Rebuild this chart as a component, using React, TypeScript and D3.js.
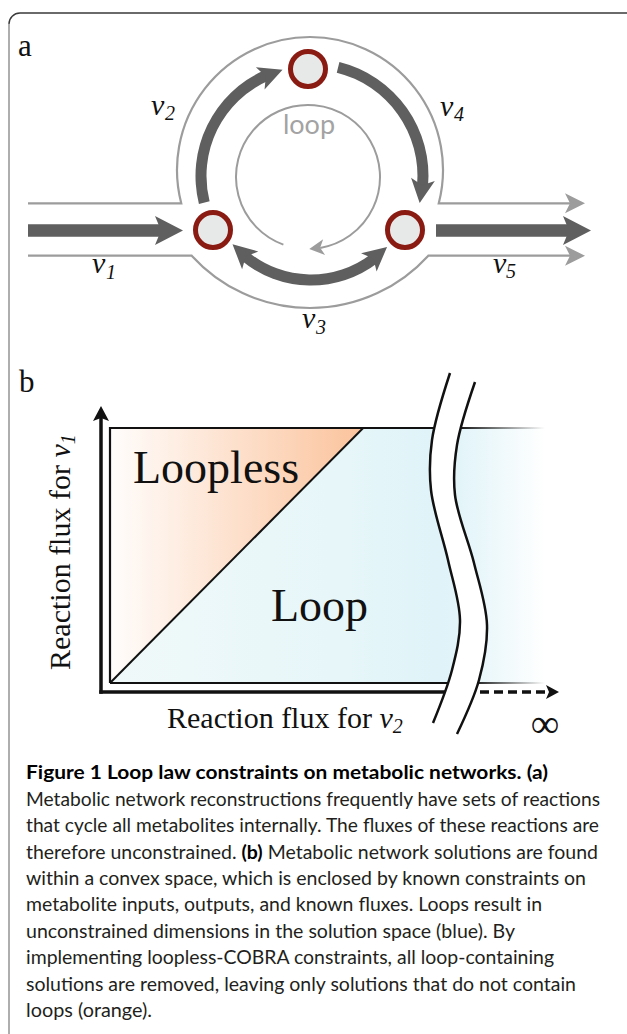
import React from 'react';
import * as d3 from 'd3';

const W = 627;
const H = 1034;

// ---- panel a: metabolites and reactions ----
const nodes = [
  { id: 'top', x: 308, y: 69 },
  { id: 'left', x: 213, y: 230 },
  { id: 'right', x: 405, y: 230 },
];

// loop reactions drawn as arcs around the loop centre (deg, 0 = 12 o'clock)
const loopCenter = { x: 311, y: 176 };
const loopArrows = [
  { id: 'v2', r: 110, from: -104, to: -15, heads: ['end'] },
  { id: 'v4', r: 112, from: 14, to: 104, heads: ['end'] },
  { id: 'v3', r: 104, from: 133, to: 229, heads: ['start', 'end'] },
];

// exchange reactions v1 (in) and v5 (out)
const flowArrows = [
  { id: 'v1', x0: 28, x1: 183, y: 230.5 },
  { id: 'v5', x0: 436, x1: 591, y: 230.5 },
];

const reactionLabels = [
  { sub: '1', x: 92, y: 273, sx: 106, sy: 279 },
  { sub: '2', x: 151, y: 115, sx: 165, sy: 120 },
  { sub: '3', x: 302, y: 328, sx: 316, sy: 334 },
  { sub: '4', x: 440, y: 116, sx: 454, sy: 121 },
  { sub: '5', x: 493, y: 273, sx: 506, sy: 278 },
];

// ---- panel b: solution space ----
const diagTop = 0.582; // v2 value where loopless region meets the top bound
const looplessRegion: [number, number][] = [[0, 0], [0, 1], [diagTop, 1]];
const loopRegion: [number, number][] = [[0, 0], [diagTop, 1], [1, 1], [1, 0]];
const breakLeft: [number, number][] = [
  [450, 373], [432, 440], [431, 490], [448, 560], [460, 620], [452, 670], [433, 723],
];
const breakRight: [number, number][] = [
  [475, 382], [457, 445], [455, 495], [474, 563], [487, 625], [479, 680], [457, 734],
];

// ---- caption ----
const captionLines: { t: string; b?: boolean }[][] = [
  [{ t: 'Figure 1 Loop law constraints on metabolic networks. (a)', b: true }],
  [{ t: 'Metabolic network reconstructions frequently have sets of reactions' }],
  [{ t: 'that cycle all metabolites internally. The fluxes of these reactions are' }],
  [{ t: 'therefore unconstrained. ' }, { t: '(b)', b: true }, { t: ' Metabolic network solutions are found' }],
  [{ t: 'within a convex space, which is enclosed by known constraints on' }],
  [{ t: 'metabolite inputs, outputs, and known fluxes. Loops result in' }],
  [{ t: 'unconstrained dimensions in the solution space (blue). By' }],
  [{ t: 'implementing loopless-COBRA constraints, all loop-containing' }],
  [{ t: 'solutions are removed, leaving only solutions that do not contain' }],
  [{ t: 'loops (orange).' }],
];
const captionRight = [548, 600, 599, 598, 586, 542, 515, 554, 576, 152];

const ARROW = '#5f5f5f';
const LIGHT = '#9c9c9c';
const SERIF = '"Liberation Serif", "Times New Roman", serif';
const SANS = 'Lato, "Open Sans", sans-serif';

const rad = (d: number) => (d * Math.PI) / 180;
const onCircle = (cx: number, cy: number, r: number, a: number): [number, number] => [
  cx + r * Math.sin(rad(a)),
  cy - r * Math.cos(rad(a)),
];

function headPoints(tip: [number, number], dir: [number, number], L: number, w: number, n: number) {
  const [tx, ty] = tip;
  const [dx, dy] = dir;
  const nx = -dy, ny = dx;
  const bx = tx - dx * L, by = ty - dy * L;
  return [
    [tx, ty],
    [bx + nx * w, by + ny * w],
    [tx - dx * (L - n), ty - dy * (L - n)],
    [bx - nx * w, by - ny * w],
  ].map((p) => p.join(',')).join(' ');
}

function arcHead(cx: number, cy: number, r: number, tipA: number, s: number, L: number, w: number, n: number) {
  const tip = onCircle(cx, cy, r, tipA);
  const base = onCircle(cx, cy, r, tipA - (s * L * 180) / (Math.PI * r));
  const len = Math.hypot(tip[0] - base[0], tip[1] - base[1]);
  const dir: [number, number] = [(tip[0] - base[0]) / len, (tip[1] - base[1]) / len];
  return headPoints(tip, dir, len, w, n);
}

export default function App() {
  const arcGen = d3.arc();
  const HL = 24, HW = 12, HN = 6, T = 11;

  // outer grey channel boundary
  const up = { cx: 310, cy: 170, r: 133 };
  const lo = { cx: 310, cy: 148, r: 160 };
  const yU = 203.3, yL = 255.7;
  const dxU = Math.sqrt(up.r * up.r - (yU - up.cy) ** 2);
  const dxL = Math.sqrt(lo.r * lo.r - (yL - lo.cy) ** 2);
  const upper = d3.path();
  upper.moveTo(28, yU);
  upper.lineTo(up.cx - dxU, yU);
  upper.arc(up.cx, up.cy, up.r, Math.atan2(yU - up.cy, -dxU), Math.atan2(yU - up.cy, dxU), false);
  upper.lineTo(571, yU);
  const lower = d3.path();
  lower.moveTo(28, yL);
  lower.lineTo(lo.cx - dxL, yL);
  lower.arc(lo.cx, lo.cy, lo.r, Math.atan2(yL - lo.cy, -dxL), Math.atan2(yL - lo.cy, dxL), true);
  lower.lineTo(571, yL);

  // inner "loop" circle
  const inner = { cx: 308, cy: 177, r: 72 };
  const innerTip = 179;
  const innerNotch = innerTip - ((15 - 4) * 180) / (Math.PI * inner.r);
  const innerPath = d3.path();
  innerPath.arc(inner.cx, inner.cy, inner.r, rad(-160 - 90), rad(innerNotch - 90), false);

  // panel b scales
  const x = d3.scaleLinear().domain([0, 1]).range([110, 545]);
  const y = d3.scaleLinear().domain([0, 1]).range([683, 428]);
  const poly = d3.line<[number, number]>().x((d) => x(d[0])).y((d) => y(d[1]));
  const wave = d3.line<[number, number]>().curve(d3.curveCatmullRom.alpha(0.5));
  const leftD = wave(breakLeft) as string;
  const rightRevD = (wave(breakRight.slice().reverse()) as string).replace(/^M/, 'L');
  const gapD = leftD + rightRevD + 'Z';

  return (
    <svg
      width={W}
      height={H}
      viewBox={`0 0 ${W} ${H}`}
      style={{ position: 'absolute', left: 0, top: 0, display: 'block', background: '#fff' }}
    >
      <defs>
        <linearGradient id="orange" gradientUnits="userSpaceOnUse" x1={x(0)} x2={x(diagTop)} y1={0} y2={0}>
          <stop offset="0" stopColor="#fffdfc" />
          <stop offset="1" stopColor="#fbc39c" />
        </linearGradient>
        <linearGradient id="blue" gradientUnits="userSpaceOnUse" x1={x(0)} x2={x(1)} y1={0} y2={0}>
          <stop offset="0" stopColor="#f0f9f9" />
          <stop offset="0.55" stopColor="#e6f6f9" />
          <stop offset="0.76" stopColor="#dff3f8" />
          <stop offset="0.84" stopColor="#e7f6fa" />
          <stop offset="1" stopColor="#ffffff" />
        </linearGradient>
        <linearGradient id="fadeTop" gradientUnits="userSpaceOnUse" x1={109} x2={545} y1={0} y2={0}>
          <stop offset="0.8" stopColor="#111" stopOpacity="1" />
          <stop offset="1" stopColor="#111" stopOpacity="0" />
        </linearGradient>
        <linearGradient id="fadeBottom" gradientUnits="userSpaceOnUse" x1={109} x2={545} y1={0} y2={0}>
          <stop offset="0.83" stopColor="#111" stopOpacity="1" />
          <stop offset="1" stopColor="#111" stopOpacity="0" />
        </linearGradient>
      </defs>

      {/* frame */}
      <path d="M9,1034 V24" fill="none" stroke="#8c8c8c" strokeWidth={1.4} />
      <path d="M9,24 A11,11 0 0 1 20,13 H627" fill="none" stroke="#3a3a3a" strokeWidth={1.4} />

      {/* ---------- panel a ---------- */}
      <text x={18} y={56} fontFamily={SERIF} fontSize={31} fill="#111">a</text>

      <path d={upper.toString()} fill="none" stroke={LIGHT} strokeWidth={2.2} />
      <path d={lower.toString()} fill="none" stroke={LIGHT} strokeWidth={2.2} />
      {[yU, yL].map((yy) => (
        <polygon key={yy} points={headPoints([585, yU === yy ? yU : yL], [1, 0], 20, 10, 5)} fill={LIGHT} />
      ))}

      <path d={innerPath.toString()} fill="none" stroke={LIGHT} strokeWidth={2} />
      <polygon
        points={arcHead(inner.cx, inner.cy, inner.r, innerTip, 1, 15, 8, 4)}
        fill={LIGHT}
      />
      <text x={309} y={134} textAnchor="middle" fontFamily={SANS} fontSize={27} fill="#a3a3a3">loop</text>

      {flowArrows.map((f) => (
        <g key={f.id}>
          <rect x={f.x0} y={f.y - 6.25} width={f.x1 - f.x0 - 21} height={12.5} fill={ARROW} />
          <polygon points={headPoints([f.x1, f.y], [1, 0], 28, 14.5, 6)} fill={ARROW} />
        </g>
      ))}

      {loopArrows.map((a) => {
        const off = ((HL - HN - 1) * 180) / (Math.PI * a.r);
        const a0 = a.heads.includes('start') ? a.from + off : a.from;
        const a1 = a.heads.includes('end') ? a.to - off : a.to;
        const band = arcGen({
          innerRadius: a.r - T / 2,
          outerRadius: a.r + T / 2,
          startAngle: rad(a0),
          endAngle: rad(a1),
        } as any) as string;
        return (
          <g key={a.id} transform={`translate(${loopCenter.x},${loopCenter.y})`}>
            <path d={band} fill={ARROW} />
            {a.heads.includes('end') && (
              <polygon points={arcHead(0, 0, a.r, a.to, 1, HL, HW, HN)} fill={ARROW} />
            )}
            {a.heads.includes('start') && (
              <polygon points={arcHead(0, 0, a.r, a.from, -1, HL, HW, HN)} fill={ARROW} />
            )}
          </g>
        );
      })}

      {nodes.map((n) => (
        <circle key={n.id} cx={n.x} cy={n.y} r={17.5} fill="#e7e9e8" stroke="#8a1b13" strokeWidth={5} />
      ))}

      {reactionLabels.map((l) => (
        <g key={l.sub} fontFamily={SERIF} fontStyle="italic" fill="#111">
          <text x={l.x} y={l.y} fontSize={30}>v</text>
          <text x={l.sx} y={l.sy} fontSize={20}>{l.sub}</text>
        </g>
      ))}

      {/* ---------- panel b ---------- */}
      <text x={19} y={392} fontFamily={SERIF} fontSize={31} fill="#111">b</text>

      <path d={poly(looplessRegion) + 'Z'} fill="url(#orange)" />
      <path d={poly(loopRegion) + 'Z'} fill="url(#blue)" />

      <line x1={x(0)} y1={y(1)} x2={x(1)} y2={y(1)} stroke="url(#fadeTop)" strokeWidth={2.2} />
      <line x1={x(0)} y1={y(0)} x2={x(1)} y2={y(0)} stroke="url(#fadeBottom)" strokeWidth={2.2} />
      <line x1={x(0)} y1={y(0)} x2={x(0)} y2={y(1) - 1.1} stroke="#111" strokeWidth={2.2} />
      <line x1={x(0)} y1={y(0)} x2={x(diagTop)} y2={y(1)} stroke="#111" strokeWidth={2} />

      {/* axes */}
      <line x1={101} y1={693.7} x2={101} y2={418} stroke="#111" strokeWidth={3.5} />
      <polygon points={headPoints([101, 406], [0, -1], 15, 8, 3)} fill="#111" />
      <line x1={99.3} y1={692} x2={470} y2={692} stroke="#111" strokeWidth={3.5} />

      {/* axis break */}
      <path d={gapD} fill="#fff" />
      <path d={leftD} fill="none" stroke="#111" strokeWidth={2.5} />
      <path d={wave(breakRight) as string} fill="none" stroke="#111" strokeWidth={2.5} />
      <line x1={480} y1={692} x2={548} y2={692} stroke="#111" strokeWidth={3.5} strokeDasharray="9,5" />
      <polygon points={headPoints([559, 692], [1, 0], 13, 7, 3)} fill="#111" />

      <text x={133} y={483} fontFamily={SERIF} fontSize={46} fill="#111">Loopless</text>
      <text x={271} y={621} fontFamily={SERIF} fontSize={46} fill="#111">Loop</text>

      <text x={167} y={728} fontFamily={SERIF} fontSize={30} fill="#111">
        Reaction flux for <tspan fontStyle="italic">v</tspan>
        <tspan fontStyle="italic" fontSize={20} dy={5}>2</tspan>
      </text>
      <text transform="translate(70,670) rotate(-90)" fontFamily={SERIF} fontSize={30} fill="#111">
        Reaction flux for <tspan fontStyle="italic">v</tspan>
        <tspan fontStyle="italic" fontSize={20} dy={5}>1</tspan>
      </text>
      <text x={545} y={737} textAnchor="middle" fontFamily={SERIF} fontSize={40} fill="#111">∞</text>

      {/* ---------- caption ---------- */}
      {captionLines.map((segs, i) => (
        <text
          key={i}
          x={26}
          y={779.3 + i * 26.4}
          fontFamily={SANS}
          fontSize={18.5}
          fill="#231f20"
          textLength={captionRight[i] - 26}
          lengthAdjust="spacingAndGlyphs"
        >
          {segs.map((s, j) => (
            <tspan key={j} fontWeight={s.b ? 700 : 400} fill={s.b ? '#000' : '#231f20'}>
              {s.t}
            </tspan>
          ))}
        </text>
      ))}
    </svg>
  );
}
